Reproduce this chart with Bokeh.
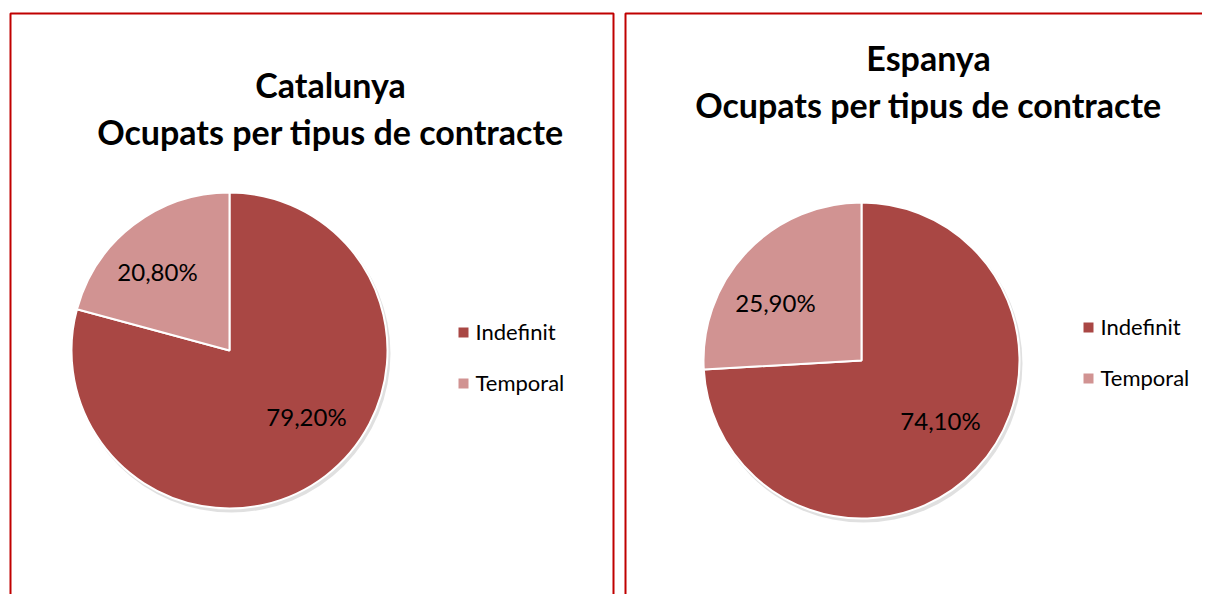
import numpy as np
from bokeh.plotting import figure
from bokeh.models import Range1d
from bokeh.core.properties import value
from bokeh.embed import file_html
from bokeh.resources import INLINE

# ---- data ----
categories = ["Indefinit", "Temporal"]
catalunya_values = [79.2, 20.8]
espanya_values = [74.1, 25.9]
value_labels_cat = ["79,20%", "20,80%"]
value_labels_esp = ["74,10%", "25,90%"]
titles = [["Catalunya", "Ocupats per tipus de contracte"],
          ["Espanya", "Ocupats per tipus de contracte"]]
colors = ["#A94744", "#D19392"]

W, H = 1202, 594
p = figure(width=W, height=H, output_backend="svg", toolbar_location=None,
           x_range=Range1d(0, W), y_range=Range1d(0, H), min_border=0)
p.axis.visible = False
p.grid.visible = False
p.outline_line_color = None
p.background_fill_color = "white"

def sy(y):  # image y -> data y
    return H - y

def sx(x):
    return x

FONT = "Lato"

# panel borders (extend below the visible area)
for (x0, x1) in [(10, 613), (625, 1240)]:
    p.line([sx(x0), sx(x0), sx(x1), sx(x1)], [sy(700), sy(13), sy(13), sy(700)],
           line_color="#C00000", line_width=2)

panels = [
    dict(vals=catalunya_values, labels=value_labels_cat, title=titles[0],
         cx=229, cy=350, r=158, ty=(84, 131), tx=330,
         lab_pos=[(306, 416), (157, 271)], leg=(463, 331, 382)),
    dict(vals=espanya_values, labels=value_labels_esp, title=titles[1],
         cx=861, cy=360, r=158, ty=(57, 104), tx=928,
         lab_pos=[(940, 420), (775, 302)], leg=(1088, 326, 377)),
]

for pn in panels:
    vals = np.array(pn["vals"], dtype=float)
    frac = vals / vals.sum()
    cum = np.concatenate([[0], np.cumsum(frac)])
    starts = np.pi / 2 - 2 * np.pi * cum[:-1]
    ends = np.pi / 2 - 2 * np.pi * cum[1:]
    cx, cy, r = sx(pn["cx"]), sy(pn["cy"]), pn["r"]
    # soft shadow
    p.circle(x=cx + 2, y=cy - 3, radius=r + 1, fill_color="#000000",
             fill_alpha=0.12, line_color=None)
    p.wedge(x=[cx] * len(vals), y=[cy] * len(vals), radius=r,
            start_angle=list(starts), end_angle=list(ends), direction="clock",
            fill_color=colors, line_color="white", line_width=2)
    # value labels
    lx = [sx(a) for a, b in pn["lab_pos"]]
    ly = [sy(b) for a, b in pn["lab_pos"]]
    p.text(x=lx, y=ly, text=pn["labels"], text_align="center", text_baseline="middle",
           text_font=value(FONT), text_font_size="24px", text_color="#000000")
    # title
    p.text(x=[sx(pn["tx"])] * 2, y=[sy(pn["ty"][0]), sy(pn["ty"][1])], text=pn["title"],
           text_align="center", text_baseline="middle", text_font=value(FONT),
           text_font_style="bold", text_font_size="34px", text_color="#000000")
    # legend
    lgx, ly1, ly2 = pn["leg"]
    p.scatter(x=[sx(lgx)] * 2, y=[sy(ly1 + 1), sy(ly2 + 1)], marker="square", size=10,
              fill_color=colors, line_color=None)
    p.text(x=[sx(lgx + 12)] * 2, y=[sy(ly1), sy(ly2)], text=categories,
           text_align="left", text_baseline="middle", text_font=value(FONT),
           text_font_size="22px", text_color="#000000")

open("out.html", "w").write(file_html(p, INLINE))
